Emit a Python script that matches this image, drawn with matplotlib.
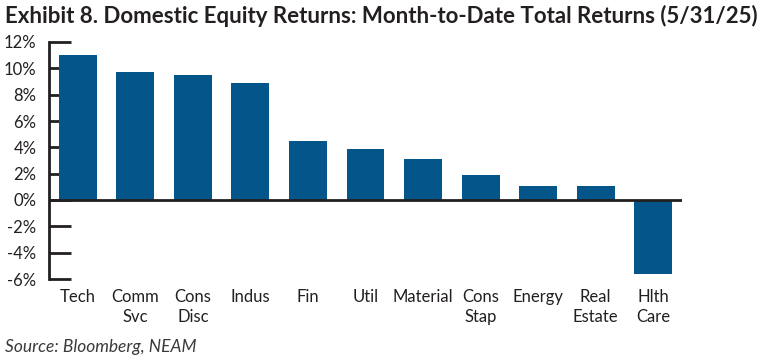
import matplotlib

matplotlib.use("Agg")
import matplotlib.pyplot as plt
import numpy as np

sectors = ["Tech", "Comm\nSvc", "Cons\nDisc", "Indus", "Fin", "Util", "Material",
           "Cons\nStap", "Energy", "Real\nEstate", "Hlth\nCare"]
returns = [11.0, 9.7, 9.5, 8.9, 4.5, 3.9, 3.1, 1.9, 1.05, 1.05, -5.6]
yticks = [-6, -4, -2, 0, 2, 4, 6, 8, 10, 12]

BAR = "#03558a"
INK = "#231f20"

plt.rcParams["font.family"] = ["Lato", "DejaVu Sans"]

fig = plt.figure(figsize=(7.62, 3.63), dpi=100)
ax = fig.add_axes([49 / 762, 1 - 279 / 363, (682 - 49) / 762, (279 - 42) / 363])

x = np.arange(len(sectors))
ax.bar(x, returns, width=0.66, color=BAR, zorder=2)
ax.axhline(0, color=INK, lw=2, zorder=3)

ax.set_xlim(-0.5, len(sectors) - 0.5)
ax.set_ylim(-6, 12)
ax.set_yticks(yticks)
ax.set_yticklabels([f"{t}%" for t in yticks], fontsize=12, color=INK)
ax.set_xticks(x)
ax.set_xticklabels(sectors, fontsize=12, color=INK, linespacing=1.35, va="top")
ax.tick_params(axis="x", length=0, pad=7)
ax.tick_params(axis="y", direction="in", length=16, width=2, color=INK, pad=9)
for side in ("top", "right", "bottom"):
    ax.spines[side].set_visible(False)
ax.spines["left"].set_linewidth(2)
ax.spines["left"].set_color(INK)

fig.text(5 / 762, 1 - 16 / 363, "Exhibit 8. Domestic Equity Returns: Month-to-Date Total Returns (5/31/25)",
         fontsize=16, fontweight="bold", color=INK, va="center", ha="left")
fig.text(5 / 762, 1 - 347 / 363, "Source: Bloomberg, NEAM", fontsize=12.5, style="italic",
         color="#3a3a3a", va="center", ha="left")

fig.savefig("out.png", dpi=100)
